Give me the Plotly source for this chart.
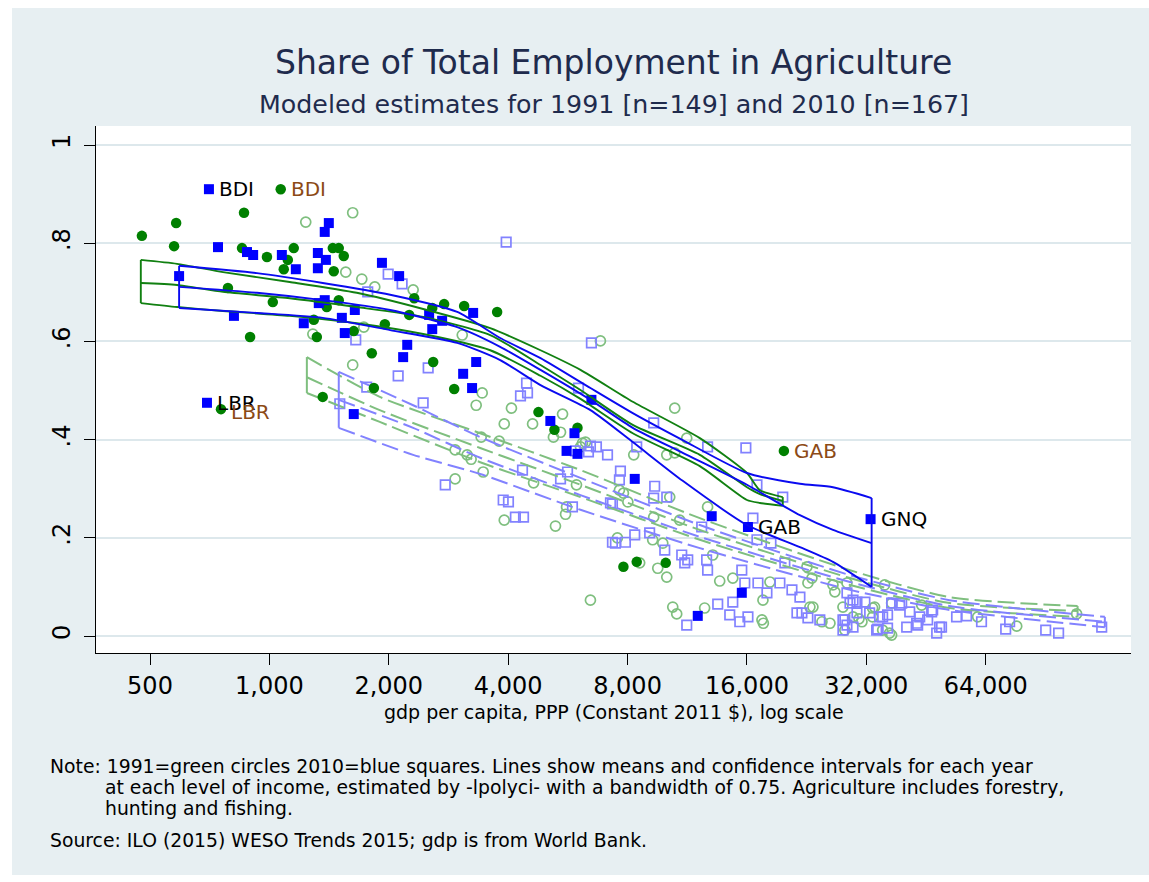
import math
import plotly.graph_objects as go

# ---------------- data ----------------
# 1991, Africa-type group (filled green circles)
gdp_1991_a = [477, 582, 575, 863, 1068, 853, 986, 1152, 1113, 1087,
              1445, 1496, 1540, 1453, 786, 1020, 894, 1496, 1395, 1317,
              1294, 1632, 1955, 2318, 2252, 2574, 2758, 3098, 3752, 1812,
              2588, 2924, 1834, 1363, 755, 4769, 5233, 5982, 19829, 7810,
              8437, 9986]
share_1991_a = [.815, .841, .794, .862, .910, .790, .772, .790, .766, .747,
                .790, .790, .774, .743, .709, .680, .609, .684, .670, .609,
                .644, .621, .635, .688, .654, .668, .676, .672, .660, .576,
                .558, .503, .505, .487, .462, .456, .420, .424, .377, .141,
                .151, .149]

# 2010, same group (filled blue squares)
gdp_2010_a = [704, 742, 878, 910, 1075, 1166, 592, 814, 1325, 1388,
              1325, 1412, 1379, 1922, 2124, 1379, 1332, 1642, 1221, 1523,
              1549, 2528, 2726, 2574, 3264, 2226, 2174, 3322, 3080, 3244,
              1632, 696, 6486, 5110, 5878, 5614, 5982, 8341, 13040, 16093,
              32800, 15529, 12025]
share_2010_a = [.910, .792, .782, .776, .776, .747, .733, .652, .780, .766,
                .749, .841, .823, .760, .733, .684, .678, .664, .637, .648,
                .617, .654, .642, .625, .658, .593, .568, .558, .534, .505,
                .452, .475, .481, .438, .413, .377, .371, .320, .244, .222,
                .238, .088, .041]

# 1991, other countries (hollow green circles)
gdp_1991_b = [1235, 1622, 1558, 1710, 1844, 2304, 1730, 1287, 3064, 1622,
              3440, 3322, 4077, 3910, 4609, 5485, 3420, 3796, 2940, 3152,
              3226, 3460, 2940, 4636, 5614, 5581, 3910, 5264, 5202, 5421,
              6158, 5947, 6834, 10521, 6266, 6087, 8293, 10044, 10521, 11280,
              7631, 7810, 8013, 10220, 9310, 12732, 6449, 10830, 7543, 9255,
              9816, 13118, 8583, 9533, 10044, 10400, 10643, 12516, 13661, 14739,
              17557, 17456, 17600, 18288, 22666, 22797, 26655, 23061, 23470, 25907,
              27937, 29623, 31200, 28252, 33180, 33180, 37060, 35180, 37060, 44120,
              61070, 76620, 108500, 30664, 33570, 35590, 36620, 28592, 26365, 23334,
              24730]
share_1991_b = [.843, .862, .741, .727, .711, .705, .629, .615, .613, .552,
                .495, .470, .464, .432, .432, .452, .405, .397, .379, .369,
                .360, .334, .320, .312, .263, .248, .236, .224, .405, .415,
                .393, .308, .601, .464, .395, .385, .369, .369, .373, .403,
                .297, .291, .273, .283, .242, .263, .073, .236, .200, .196,
                .189, .165, .149, .138, .120, .059, .045, .057, .112, .118,
                .073, .033, .026, .110, .141, .108, .090, .059, .059, .026,
                .059, .039, .029, .012, .057, .039, .067, .012, .002, .063,
                .039, .020, .045, .035, .059, .104, .006, .108, .104, .118,
                .029]

# 2010, other countries (hollow blue squares)
gdp_2010_b = [3954, 1993, 2161, 1770, 1651, 2514, 2112, 1760, 2442, 1505,
              4450, 4476, 4297, 6017, 5912, 6449, 6678, 6375, 7121, 2776,
              3886, 4007, 4171, 4373, 4347, 5646, 5421, 5810, 7244, 7328,
              6486, 9310, 8437, 12732, 15900, 7676, 7631, 9365, 9310, 10044,
              7328, 12304, 16566, 16957, 18394, 7456, 7901, 8341, 9095, 9929,
              10957, 11346, 11150, 12660, 15529, 15800, 17055, 17970, 12732, 14739,
              13503, 14479, 15348, 16093, 11280, 19940, 20777, 21762, 19374, 21389,
              22015, 22797, 24428, 27937, 28592, 29107, 29623, 30306, 31740, 32620,
              34570, 36200, 37060, 39290, 41170, 43630, 46760, 48960, 27937, 29623,
              33970, 36200, 40450, 42850, 45690, 48140, 28592, 30306, 28252, 35180,
              34180, 38820, 43110, 47040, 49520, 54030, 57270, 62460, 71870, 73530,
              90660, 97720, 125500, 16957, 19700]
share_2010_b = [.802, .737, .717, .701, .603, .546, .530, .507, .475, .473,
                .515, .495, .489, .505, .377, .387, .385, .375, .369, .308,
                .277, .273, .242, .242, .338, .334, .320, .263, .271, .191,
                .597, .434, .385, .385, .383, .336, .318, .305, .281, .283,
                .269, .222, .240, .196, .189, .189, .191, .206, .210, .175,
                .165, .155, .149, .155, .134, .108, .108, .088, .134, .069,
                .065, .043, .029, .039, .022, .149, .094, .079, .108, .047,
                .047, .037, .033, .033, .022, .067, .073, .047, .069, .047,
                .039, .043, .067, .067, .049, .039, .049, .018, .012, .018,
                .012, .016, .018, .026, .033, .006, .088, .069, .033, .039,
                .014, .063, .022, .053, .018, .039, .041, .029, .014, .029,
                .012, .006, .018, .308, .283]

# local-polynomial fits (mean and CI)
fit91a_gdp = [474, 585, 764, 1125, 1661, 2442, 3604, 4826, 6087, 8245, 12170, 16000, 17250, 19700]
fit91a_hi = [.766, .758, .741, .721, .699, .666, .627, .582, .542, .477, .403, .332, .297, .283]
fit91a_mean = [.719, .715, .701, .688, .670, .650, .613, .552, .501, .430, .369, .303, .289, .275]
fit91a_lo = [.678, .670, .662, .652, .637, .615, .582, .530, .483, .413, .346, .277, .271, .265]

fit10a_gdp = [592, 930, 1363, 2016, 2976, 3818, 4826, 6449, 8245, 11020, 16000, 21760, 26365, 33000]
fit10a_hi = [.754, .739, .719, .695, .660, .607, .566, .505, .454, .399, .332, .310, .303, .281]
fit10a_mean = [.711, .699, .684, .664, .629, .589, .542, .481, .424, .373, .308, .246, .216, .189]
fit10a_lo = [.668, .658, .648, .623, .597, .562, .511, .460, .395, .316, .226, .181, .151, .100]

fit91b_gdp = [1243, 1898, 3400, 6087, 12170, 29107, 51870, 109100]
fit91b_hi = [.568, .487, .413, .338, .240, .134, .079, .061]
fit91b_mean = [.527, .460, .383, .308, .216, .118, .067, .051]
fit91b_lo = [.495, .436, .354, .283, .196, .104, .057, .039]

fit10b_gdp = [1496, 2304, 3400, 6087, 12170, 29107, 51870, 127800]
fit10b_hi = [.538, .470, .405, .322, .226, .124, .073, .039]
fit10b_mean = [.481, .424, .363, .287, .202, .110, .061, .029]
fit10b_lo = [.424, .369, .330, .257, .179, .094, .053, .018]

# labelled points
label_text = ["BDI", "BDI", "LBR", "LBR", "GAB", "GAB", "GNQ"]
label_gdp = [704, 1068, 696, 755, 19829, 16093, 32800]
label_share = [.910, .910, .475, .462, .377, .222, .238]
label_year = [2010, 1991, 2010, 1991, 1991, 2010, 2010]

x_ticks = [500, 1000, 2000, 4000, 8000, 16000, 32000, 64000]
x_ticktext = ["500", "1,000", "2,000", "4,000", "8,000", "16,000", "32,000", "64,000"]
y_ticks = [0, .2, .4, .6, .8, 1]
y_ticktext = ["0", ".2", ".4", ".6", ".8", "1"]

# ---------------- style ----------------
FONT = "DejaVu Sans, Liberation Sans, Arial, sans-serif"
BG = "#e7eff2"
GRID = "#dde8ec"
GREEN = "#008000"
GREEN_LN = "#118011"
BLUE = "#0000ff"
BLUE_LN = "#0a0af0"
LGREEN = "#7fbf7f"
LBLUE = "#8282ff"
BROWN = "#8c4a16"
TITLE_C = "#1f2b4d"

W, H = 1149, 882
L, R, T, B = 96, 18, 126, 229
PW, PH = W - L - R, H - T - B


def pxx(px):
    return (px - L) / PW


def pxy(py):
    return (H - B - py) / PH


fig = go.Figure()

# hollow markers
fig.add_trace(go.Scatter(x=gdp_1991_b, y=share_1991_b, mode="markers",
                         marker=dict(symbol="circle-open", size=10, color=LGREEN,
                                     line=dict(width=1.7, color=LGREEN))))
fig.add_trace(go.Scatter(x=gdp_2010_b, y=share_2010_b, mode="markers",
                         marker=dict(symbol="square-open", size=9.5, color=LBLUE,
                                     line=dict(width=1.7, color=LBLUE))))


def add_band(gx, hi, mean, lo, color, dash, width):
    for ys in (hi, mean, lo):
        fig.add_trace(go.Scatter(x=gx, y=ys, mode="lines",
                                 line=dict(color=color, width=width, dash=dash, shape="spline", smoothing=0.6)))
    for i in (0, -1):
        fig.add_trace(go.Scatter(x=[gx[i], gx[i]], y=[hi[i], lo[i]], mode="lines",
                                 line=dict(color=color, width=width)))


add_band(fit91b_gdp, fit91b_hi, fit91b_mean, fit91b_lo, LGREEN, "17px,6px", 2)
add_band(fit10b_gdp, fit10b_hi, fit10b_mean, fit10b_lo, LBLUE, "17px,6px", 2)

# filled markers
fig.add_trace(go.Scatter(x=gdp_1991_a, y=share_1991_a, mode="markers",
                         marker=dict(symbol="circle", size=10.5, color=GREEN, line=dict(width=0))))
fig.add_trace(go.Scatter(x=gdp_2010_a, y=share_2010_a, mode="markers",
                         marker=dict(symbol="square", size=10, color=BLUE, line=dict(width=0))))

add_band(fit91a_gdp, fit91a_hi, fit91a_mean, fit91a_lo, GREEN_LN, "solid", 1.9)
add_band(fit10a_gdp, fit10a_hi, fit10a_mean, fit10a_lo, BLUE_LN, "solid", 1.9)

annotations = []
for t, g, s, yr in zip(label_text, label_gdp, label_share, label_year):
    annotations.append(dict(x=math.log10(g), y=s, xref="x", yref="y", text=t,
                            showarrow=False, xanchor="left", yanchor="middle",
                            xshift=8, yshift=(-3 if (t == "LBR" and yr == 1991) else 0),
                            font=dict(size=20, color=(BROWN if yr == 1991 else "black"), family=FONT)))

annotations.append(dict(x=0.5, y=pxy(62), xref="paper", yref="paper", showarrow=False,
                        text="Share of Total Employment in Agriculture",
                        xanchor="center", yanchor="middle", font=dict(size=33, color=TITLE_C, family=FONT)))
annotations.append(dict(x=0.5, y=pxy(104), xref="paper", yref="paper", showarrow=False,
                        text="Modeled estimates for 1991 [n=149] and 2010 [n=167]",
                        xanchor="center", yanchor="middle", font=dict(size=25.3, color=TITLE_C, family=FONT)))
annotations.append(dict(x=0.5, y=pxy(712), xref="paper", yref="paper", showarrow=False,
                        text="gdp per capita, PPP (Constant 2011 $), log scale",
                        xanchor="center", yanchor="middle", font=dict(size=19, color="black", family=FONT)))

notes = [
    (48, 766, "Note: 1991=green circles 2010=blue squares. Lines show means and confidence intervals for each year"),
    (103, 787, "at each level of income, estimated by -lpolyci- with a bandwidth of 0.75. Agriculture includes forestry,"),
    (103, 808, "hunting and fishing."),
    (48, 840, "Source: ILO (2015) WESO Trends 2015; gdp is from World Bank."),
]
for nx, ny, nt in notes:
    annotations.append(dict(x=pxx(nx), y=pxy(ny), xref="paper", yref="paper", showarrow=False,
                            text=nt, xanchor="left", yanchor="middle",
                            font=dict(size=18.8, color="black", family=FONT)))

shapes = [
    dict(type="rect", xref="paper", yref="paper", x0=pxx(-5), x1=pxx(12), y0=pxy(890), y1=pxy(-5),
         fillcolor="white", line=dict(width=0), layer="above"),
    dict(type="rect", xref="paper", yref="paper", x0=pxx(-5), x1=pxx(1160), y0=pxy(8), y1=pxy(-5),
         fillcolor="white", line=dict(width=0), layer="above"),
    dict(type="rect", xref="paper", yref="paper", x0=pxx(-5), x1=pxx(1160), y0=pxy(890), y1=pxy(875),
         fillcolor="white", line=dict(width=0), layer="above"),
]

fig.update_layout(
    template="none",
    width=W, height=H,
    margin=dict(l=L, r=R, t=T, b=B, pad=0, autoexpand=False),
    paper_bgcolor=BG, plot_bgcolor="white",
    showlegend=False,
    font=dict(family=FONT, color="black"),
    annotations=annotations,
    shapes=shapes,
    xaxis=dict(type="log", range=[2.5628, 5.1725], tickvals=x_ticks, ticktext=x_ticktext,
               ticks="outside", ticklen=11, tickwidth=1.3, tickcolor="black",
               showline=True, linecolor="black", linewidth=1.3, showgrid=False, zeroline=False,
               tickfont=dict(size=24, color="black", family=FONT), automargin=False),
    yaxis=dict(range=[-0.0346, 1.0387], tickvals=y_ticks, ticktext=y_ticktext, tickangle=-90,
               ticks="outside", ticklen=11, tickwidth=1.3, tickcolor="black",
               showline=True, linecolor="black", linewidth=1.3,
               showgrid=True, gridcolor=GRID, gridwidth=2, zeroline=False,
               ticklabelstandoff=4,
               tickfont=dict(size=24, color="black", family=FONT), automargin=False),
)

fig.write_html("out.html")
